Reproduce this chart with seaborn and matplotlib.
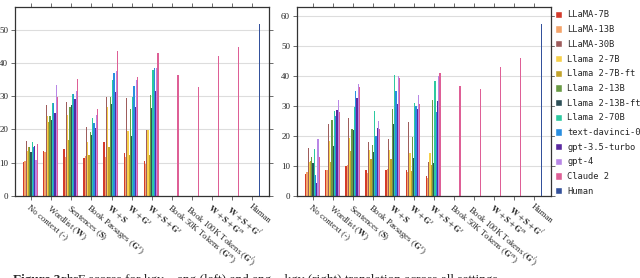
import pandas as pd
import seaborn as sns
import matplotlib.pyplot as plt
from matplotlib.patches import Patch

# x categories (mathtext for the bold letters)
categories = ["No context (-)", r"Wordlist ($\mathbf{W}$)", r"Sentences ($\mathbf{S}$)",
              r"Book Passages ($\mathbf{G}^s$)", r"$\mathbf{W}+\mathbf{S}$",
              r"$\mathbf{W}+\mathbf{G}^s$", r"$\mathbf{W}+\mathbf{S}+\mathbf{G}^s$",
              r"Book 50K Tokens ($\mathbf{G}^m$)", r"Book 100K Tokens ($\mathbf{G}^l$)",
              r"$\mathbf{W}+\mathbf{S}+\mathbf{G}^m$", r"$\mathbf{W}+\mathbf{S}+\mathbf{G}^l$",
              "Human"]

models = ["LLaMA-7B", "LLaMA-13B", "LLaMA-30B", "Llama 2-7B", "Llama 2-7B-ft",
          "Llama 2-13B", "Llama 2-13B-ft", "Llama 2-70B", "text-davinci-003",
          "gpt-3.5-turbo", "gpt-4", "Claude 2", "Human"]

colors = ["#d33b2c", "#f4a46a", "#9e5d5d", "#f7d04a", "#c3a32c", "#6a9b45", "#2e5058",
          "#2dc9a0", "#2a8ee0", "#5b2aa0", "#b887e6", "#de5f96", "#34519b"]

# left panel: first 7 categories for every model, Claude 2 on 11, Human on the last
left_scores = {
    "LLaMA-7B":         [10.2, 13.5, 14.2, 11.4, 16.2, 13.0, 10.4],
    "LLaMA-13B":        [10.6, 13.3, 11.6, 11.9, 11.6, 11.8, 9.7],
    "LLaMA-30B":        [16.5, 27.2, 28.2, 20.8, 29.8, 29.5, 19.9],
    "Llama 2-7B":       [13.5, 24.1, 24.3, 16.3, 26.7, 19.5, 19.8],
    "Llama 2-7B-ft":    [14.7, 22.2, 16.9, 12.3, 14.8, 12.3, 12.3],
    "Llama 2-13B":      [14.7, 23.9, 26.7, 19.2, 29.8, 26.1, 30.5],
    "Llama 2-13B-ft":   [13.2, 22.8, 27.2, 18.4, 27.6, 18.0, 26.3],
    "Llama 2-70B":      [16.2, 28.0, 30.7, 23.4, 35.0, 29.7, 38.0],
    "text-davinci-003": [14.6, 28.0, 30.7, 22.0, 37.0, 33.2, 38.5],
    "gpt-3.5-turbo":    [15.0, 24.9, 29.2, 20.5, 31.3, 26.8, 31.7],
    "gpt-4":            [10.8, 33.4, 31.5, 24.4, 37.5, 34.9, 38.5],
    "Claude 2":         [15.7, 29.7, 35.2, 26.0, 43.7, 35.7, 43.0, 36.3, 32.7, 42.0, 44.8],
}
left_human = 51.8

right_scores = {
    "LLaMA-7B":         [7.3, 8.6, 10.0, 8.4, 8.6, 8.7, 6.6],
    "LLaMA-13B":        [7.8, 8.6, 10.2, 7.6, 8.8, 7.9, 5.8],
    "LLaMA-30B":        [15.9, 24.0, 25.9, 17.8, 18.9, 24.7, 11.2],
    "Llama 2-7B":       [11.3, 18.3, 19.3, 15.3, 15.1, 14.2, 14.2],
    "Llama 2-7B-ft":    [11.7, 11.2, 15.0, 12.1, 12.3, 8.2, 10.3],
    "Llama 2-13B":      [12.9, 25.3, 22.2, 16.9, 28.9, 19.7, 31.8],
    "Llama 2-13B-ft":   [11.0, 16.6, 21.9, 14.6, 23.9, 12.7, 11.0],
    "Llama 2-70B":      [15.4, 28.2, 29.7, 28.2, 40.1, 30.9, 38.2],
    "text-davinci-003": [6.9, 26.4, 34.9, 19.9, 34.9, 29.9, 28.0],
    "gpt-3.5-turbo":    [4.1, 28.4, 32.6, 22.7, 30.6, 28.9, 31.6],
    "gpt-4":            [18.9, 31.8, 37.3, 24.9, 40.0, 33.6, 40.0],
    "Claude 2":         [13.0, 28.0, 36.3, 22.1, 39.3, 30.7, 40.9, 36.7, 35.6, 42.8, 46.0],
}
right_human = 57.2


def to_long(scores, human):
    rows = []
    for m, vals in scores.items():
        for c, v in zip(categories, vals):
            rows.append({"cat": c, "model": m, "score": v})
    rows.append({"cat": "Human", "model": "Human", "score": human})
    return pd.DataFrame(rows)


sns.set_style("white")
plt.rcParams["font.family"] = ["Liberation Serif", "DejaVu Serif"]
plt.rcParams["mathtext.fontset"] = "stix"

fig = plt.figure(figsize=(6.4, 2.78), dpi=100)
W, H = 640, 278
ax1 = fig.add_axes([15 / W, 1 - 195.7 / H, 254 / W, 188.4 / H])
ax2 = fig.add_axes([297 / W, 1 - 195.7 / H, 254 / W, 188.4 / H])

for ax, scores, human, ytop in [(ax1, left_scores, left_human, 56.8),
                                (ax2, right_scores, right_human, 62.8)]:
    df = to_long(scores, human)
    sns.barplot(data=df, x="cat", y="score", hue="model", order=categories,
                hue_order=models, palette=colors, width=0.8, saturation=1,
                linewidth=0, ax=ax, legend=False)
    ax.set_xlim(-0.8, 11.83)
    ax.set_ylim(0, ytop)
    ax.yaxis.grid(True, color="#dddddd", lw=0.8)
    ax.set_axisbelow(True)
    ax.set_xlabel("")
    ax.set_ylabel("")
    ax.tick_params(axis="both", direction="out", length=3, width=0.6, color="#555555",
                   top=True, right=True, bottom=True, left=True, labelsize=6.5, pad=2)
    ax.tick_params(axis="x", labelsize=6.3)
    ax.set_xticks(range(len(categories)))
    ax.set_xticklabels(categories, rotation=-40, ha="left", va="top",
                       rotation_mode="anchor")
    for s in ax.spines.values():
        s.set_color("#333333")
        s.set_linewidth(0.9)

handles = [Patch(facecolor=c, label=m) for m, c in zip(models, colors)]
fig.legend(handles=handles, loc="upper left", bbox_to_anchor=(0.862, 0.975),
           frameon=False, prop={"family": "DejaVu Sans Mono", "size": 6.3},
           handlelength=0.8, handleheight=0.9, handletextpad=0.6, labelspacing=0.65,
           borderaxespad=0)

# caption: only the top of it shows at the bottom edge of the picture
fig.text(0.02, 1 - 283 / H, "Figure 3:", fontweight="bold", fontsize=9.5, va="baseline")
fig.text(0.095, 1 - 283 / H,
         "chrF scores for kgv\u2192eng (left) and eng\u2192kgv (right) translation across all settings.",
         fontsize=9.5, va="baseline")

fig.savefig("out.png", dpi=100)
